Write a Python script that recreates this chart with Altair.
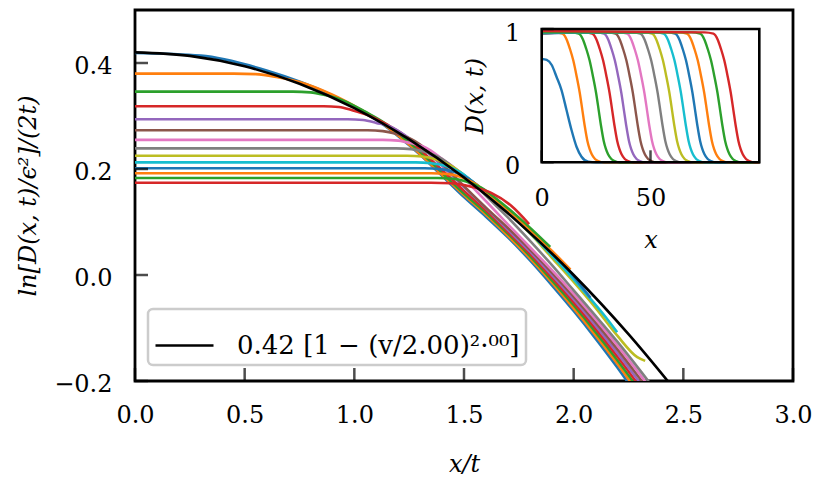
import altair as alt
import pandas as pd

FONT = "DejaVu Serif"
TAB10 = ["#1f77b4", "#ff7f0e", "#2ca02c", "#d62728", "#9467bd",
         "#8c564b", "#e377c2", "#7f7f7f", "#bcbd22", "#17becf"]
N_CURVES = 14
CURVE_COLORS = [TAB10[k % 10] for k in range(N_CURVES)]

# ---------------- main panel: x/t  vs  ln[D/eps^2]/(2t) ----------------
m00_x = [0, 0.3, 0.6, 0.9, 1.1, 1.2, 1.3, 1.4, 1.5, 1.6, 1.7, 1.8, 1.9, 2.0, 2.1, 2.2, 2.3, 2.4]
m00_y = [0.419, 0.414, 0.386, 0.339, 0.293, 0.262, 0.227, 0.187, 0.147, 0.110, 0.071, 0.028,
         -0.019, -0.068, -0.120, -0.175, -0.234, -0.295]
m01_x = [0, 0.45, 0.55, 0.65, 0.75, 0.9, 1.0, 1.1, 1.2, 1.3, 1.4, 1.5, 1.6, 1.7, 1.8, 1.9,
         2.0, 2.1, 2.2, 2.3, 2.4]
m01_y = [0.380, 0.380, 0.379, 0.373, 0.364, 0.340, 0.319, 0.295, 0.263, 0.228, 0.189, 0.151,
         0.114, 0.074, 0.032, -0.014, -0.063, -0.114, -0.168, -0.226, -0.286]
m02_x = [0, 0.72, 0.80, 0.86, 0.95, 1.05, 1.15, 1.2, 1.3, 1.4, 1.5, 1.6, 1.7, 1.8, 1.9, 2.0,
         2.1, 2.2, 2.3, 2.4]
m02_y = [0.346, 0.346, 0.3445, 0.340, 0.329, 0.308, 0.2835, 0.2668, 0.2326, 0.1930, 0.1536,
         0.1176, 0.0780, 0.0361, -0.0095, -0.0571, -0.1078, -0.1613, -0.2178, -0.2772]
m03_x = [0, 0.86, 0.93, 0.99, 1.06, 1.15, 1.22, 1.3, 1.4, 1.5, 1.6, 1.7, 1.8, 1.9, 2.0, 2.1,
         2.2, 2.3, 2.4]
m03_y = [0.3185, 0.3185, 0.317, 0.311, 0.302, 0.2835, 0.266, 0.2366, 0.1982, 0.1588, 0.1222,
         0.0816, 0.0403, -0.0047, -0.0517, -0.1016, -0.1543, -0.2100, -0.2684]
m04_x = [0, 0.97, 1.04, 1.10, 1.17, 1.25, 1.32, 1.4, 1.5, 1.6, 1.7, 1.8, 1.9, 2.0, 2.1, 2.2,
         2.3, 2.4]
m04_y = [0.294, 0.294, 0.2925, 0.287, 0.279, 0.258, 0.236, 0.2062, 0.1658, 0.1262, 0.0853,
         0.0444, 0.0002, -0.0462, -0.0955, -0.1474, -0.2021, -0.2596]
m05_x = [0, 1.06, 1.13, 1.19, 1.26, 1.34, 1.4, 1.5, 1.6, 1.7, 1.8, 1.9, 2.0, 2.1, 2.2, 2.3, 2.4]
m05_y = [0.273, 0.273, 0.2715, 0.2665, 0.2565, 0.2335, 0.2102, 0.1678, 0.1272, 0.0890, 0.0486,
         0.0050, -0.0408, -0.0893, -0.1404, -0.1943, -0.2508]
m06_x = [0, 1.13, 1.2, 1.26, 1.33, 1.4, 1.47, 1.55, 1.6, 1.7, 1.8, 1.9, 2.0, 2.1, 2.2, 2.3, 2.4]
m06_y = [0.255, 0.255, 0.2535, 0.2485, 0.2395, 0.2192, 0.1975, 0.1610, 0.1392, 0.0956, 0.0528,
         0.0098, -0.0354, -0.0831, -0.1334, -0.1865, -0.2420]
m07_x = [0, 1.19, 1.26, 1.32, 1.39, 1.46, 1.53, 1.6, 1.7, 1.8, 1.9, 2.0, 2.1, 2.2, 2.3, 2.4]
m07_y = [0.239, 0.239, 0.2375, 0.2325, 0.2215, 0.2006, 0.1785, 0.1492, 0.1086, 0.0648, 0.0190,
         -0.0290, -0.0771, -0.1262, -0.1785, -0.2328]
m08_x = [0, 1.24, 1.31, 1.37, 1.44, 1.52, 1.6, 1.7, 1.8, 1.9, 2.0, 2.1, 2.2, 2.29, 2.326]
m08_y = [0.225, 0.225, 0.2235, 0.2185, 0.2062, 0.1820, 0.1557, 0.1196, 0.0790, 0.0330, -0.0130,
         -0.0620, -0.1150, -0.1550, -0.1620]
m09_x = [0, 1.28, 1.35, 1.41, 1.48, 1.56, 1.65, 1.75, 1.85, 1.95, 2.05, 2.15, 2.198]
m09_y = [0.2125, 0.2125, 0.211, 0.2065, 0.1947, 0.1693, 0.1380, 0.1004, 0.0586, 0.0147, -0.0323,
         -0.0817, -0.1080]
m10_x = [0, 1.32, 1.39, 1.45, 1.52, 1.6, 1.7, 1.8, 1.9, 1.98, 2.03, 2.077]
m10_y = [0.2013, 0.2013, 0.1998, 0.1952, 0.1817, 0.1557, 0.1206, 0.0828, 0.0425, 0.0078, -0.0185,
         -0.0430]
m11_x = [0, 1.35, 1.42, 1.48, 1.55, 1.63, 1.72, 1.81, 1.9, 1.985]
m11_y = [0.192, 0.192, 0.1905, 0.186, 0.1725, 0.1466, 0.1154, 0.0817, 0.0460, 0.0103]
m12_x = [0, 1.38, 1.45, 1.51, 1.58, 1.66, 1.74, 1.82, 1.893]
m12_y = [0.183, 0.183, 0.1815, 0.1765, 0.1645, 0.1395, 0.1120, 0.0819, 0.0530]
m13_x = [0, 1.35, 1.44, 1.533, 1.624, 1.714, 1.797]
m13_y = [0.174, 0.174, 0.173, 0.1665, 0.155, 0.131, 0.096]

MAIN_X = [m00_x, m01_x, m02_x, m03_x, m04_x, m05_x, m06_x, m07_x, m08_x, m09_x, m10_x,
          m11_x, m12_x, m13_x]
MAIN_Y = [m00_y, m01_y, m02_y, m03_y, m04_y, m05_y, m06_y, m07_y, m08_y, m09_y, m10_y,
          m11_y, m12_y, m13_y]

# black fitted curve 0.42[1-(v/2)^2] read at a few points
FIT_X = [0, 0.25, 0.5, 0.75, 1.0, 1.25, 1.5, 1.75, 2.0, 2.25, 2.5]
FIT_Y = [0.42, 0.4134, 0.3938, 0.3609, 0.315, 0.2559, 0.1838, 0.0984, 0.0, -0.1116, -0.2363]
FIT_LABEL = "0.42 [1 \u2212 (v/2.00)\u00b2\u00b7\u2070\u2070]"

X_TICKS = [0.0, 0.5, 1.0, 1.5, 2.0, 2.5, 3.0]
Y_TICKS = [-0.2, 0.0, 0.2, 0.4]
X_DOMAIN = [0, 3]
Y_DOMAIN = [-0.2, 0.5]

# ---------------- inset: D(x,t) vs x ----------------
i00_x = [0, 2.3, 4.6, 6.8, 9.1, 11.4, 13.7, 16.0, 18.3, 21.4, 25.0, 100]
i00_y = [0.775, 0.768, 0.730, 0.642, 0.542, 0.392, 0.242, 0.117, 0.042, 0.005, 0.0, 0.0]
i01_x = [0, 5.5, 9.5, 11.5, 13, 14.5, 16, 17.5, 18.7, 19.8, 21, 22, 23, 24.5, 26, 28.5, 100]
i02_x = [0, 13, 17, 19, 20.5, 22, 23.5, 25, 26.2, 27.3, 28.5, 29.5, 30.5, 32, 33.5, 36, 100]
i03_x = [0, 19.2, 23.2, 25.2, 26.7, 28.2, 29.7, 31.2, 32.4, 33.5, 34.7, 35.7, 36.7, 38.2, 39.7, 42.2, 100]
i04_x = [0, 24.6, 28.6, 30.6, 32.1, 33.6, 35.1, 36.6, 37.8, 38.9, 40.1, 41.1, 42.1, 43.6, 45.1, 47.6, 100]
i05_x = [0, 29.9, 33.9, 35.9, 37.4, 38.9, 40.4, 41.9, 43.1, 44.2, 45.4, 46.4, 47.4, 48.9, 50.4, 52.9, 100]
i06_x = [0, 35.2, 39.2, 41.2, 42.7, 44.2, 45.7, 47.2, 48.4, 49.5, 50.7, 51.7, 52.7, 54.2, 55.7, 58.2, 100]
i07_x = [0, 41.3, 45.3, 47.3, 48.8, 50.3, 51.8, 53.3, 54.5, 55.6, 56.8, 57.8, 58.8, 60.3, 61.8, 64.3, 100]
i08_x = [0, 46.7, 50.7, 52.7, 54.2, 55.7, 57.2, 58.7, 59.9, 61.0, 62.2, 63.2, 64.2, 65.7, 67.2, 69.7, 100]
i09_x = [0, 52, 56, 58, 59.5, 61, 62.5, 64, 65.2, 66.3, 67.5, 68.5, 69.5, 71, 72.5, 75, 100]
i10_x = [0, 57.3, 61.3, 63.3, 64.8, 66.3, 67.8, 69.3, 70.5, 71.6, 72.8, 73.8, 74.8, 76.3, 77.8, 80.3, 100]
i11_x = [0, 62.7, 66.7, 68.7, 70.2, 71.7, 73.2, 74.7, 75.9, 77.0, 78.2, 79.2, 80.2, 81.7, 83.2, 85.7, 100]
i12_x = [0, 68.8, 72.8, 74.8, 76.3, 77.8, 79.3, 80.8, 82.0, 83.1, 84.3, 85.3, 86.3, 87.8, 89.3, 91.8, 100]
i13_x = [0, 74.9, 78.9, 80.9, 82.4, 83.9, 85.4, 86.9, 88.1, 89.2, 90.4, 91.4, 92.4, 93.9, 95.4, 97.9, 100]
# shape of a front (top of the step down to zero)
FRONT_Y = [0.975, 0.965, 0.92, 0.85, 0.765, 0.65, 0.52, 0.39, 0.27, 0.16, 0.10, 0.06, 0.025, 0.01, 0.0]
INSET_PLATEAU = [0.775, 0.960, 0.965, 0.970, 0.965, 0.970, 0.975, 0.970, 0.975, 0.970,
                 0.975, 0.980, 0.975, 0.985]

INSET_X = [i00_x, i01_x, i02_x, i03_x, i04_x, i05_x, i06_x, i07_x, i08_x, i09_x, i10_x,
           i11_x, i12_x, i13_x]
INSET_Y = [i00_y] + [[p] + FRONT_Y + [0.0] for p in INSET_PLATEAU[1:]]
INSET_X_DOMAIN = [0, 100]
INSET_Y_DOMAIN = [0, 1]
INSET_X_TICKS = [0, 50]
INSET_Y_TICKS = [0, 1]


def curves_frame(xs_list, ys_list):
    rows = []
    for k, (xs, ys) in enumerate(zip(xs_list, ys_list)):
        for j, (a, b) in enumerate(zip(xs, ys)):
            rows.append({"id": f"c{k:02d}", "ord": j, "x": a, "y": b, "col": CURVE_COLORS[k]})
    return pd.DataFrame(rows)


main_df = curves_frame(MAIN_X, MAIN_Y)
fit_df = pd.DataFrame({"x": FIT_X, "y": FIT_Y, "ord": list(range(len(FIT_X))),
                       "label": [FIT_LABEL] * len(FIT_X)})
inset_df = curves_frame(INSET_X, INSET_Y)
xt_df = pd.DataFrame({"x": X_TICKS, "y": [Y_DOMAIN[0]] * len(X_TICKS)})
yt_df = pd.DataFrame({"y": Y_TICKS, "x": [X_DOMAIN[0]] * len(Y_TICKS)})
ixt_df = pd.DataFrame({"x": INSET_X_TICKS, "y": [INSET_Y_DOMAIN[0]] * len(INSET_X_TICKS)})
iyt_df = pd.DataFrame({"y": INSET_Y_TICKS, "x": [INSET_X_DOMAIN[0]] * len(INSET_Y_TICKS)})
frame_df = pd.DataFrame({"x": [INSET_X_DOMAIN[0]], "x1": [INSET_X_DOMAIN[1]],
                         "y": [INSET_Y_DOMAIN[0]], "y1": [INSET_Y_DOMAIN[1]]})

# ---------------- layout ----------------
W, H = 658, 371
IN_X_RANGE = [406.7, 624.3]
IN_Y_RANGE = [152.3, 19.0]
LW = 2.6

mx = alt.Scale(domain=X_DOMAIN, nice=False, zero=False)
my = alt.Scale(domain=Y_DOMAIN, nice=False, zero=False)
ix = alt.Scale(domain=INSET_X_DOMAIN, range=IN_X_RANGE, nice=False, zero=False)
iy = alt.Scale(domain=INSET_Y_DOMAIN, range=IN_Y_RANGE, nice=False, zero=False)

main_x_axis = alt.Axis(values=X_TICKS, format=".1f", title="x/t", ticks=False, tickSize=0,
                       domain=False, grid=False, labelPadding=22, titlePadding=25,
                       labelFlush=False, labelOverlap=False, titleFontStyle="italic")
main_y_axis = alt.Axis(values=Y_TICKS, format=".1f", title="ln[D(x, t)/\u03f5\u00b2]/(2t)",
                       ticks=False, tickSize=0, domain=False, grid=False, labelPadding=23,
                       titlePadding=13, labelFlush=False, labelOverlap=False,
                       titleFontStyle="italic", labelOffset=3)
in_x_axis = alt.Axis(orient="bottom", offset=-(H - IN_Y_RANGE[0]), values=INSET_X_TICKS,
                     format="d", title="x", ticks=False, tickSize=0, domain=False, grid=False,
                     labelPadding=24, titlePadding=18, labelFlush=False,
                     titleFontStyle="italic")
in_y_axis = alt.Axis(orient="left", offset=-IN_X_RANGE[0], values=INSET_Y_TICKS, format="d",
                     title="D(x, t)", ticks=False, tickSize=0, domain=False, grid=False,
                     labelPadding=22, titlePadding=17, labelFlush=False,
                     titleFontStyle="italic", labelOffset=4)


def MX():
    return alt.X("x:Q", scale=mx, axis=main_x_axis)


def MY():
    return alt.Y("y:Q", scale=my, axis=main_y_axis)


def IX():
    return alt.X("x:Q", scale=ix, axis=in_x_axis)


def IY():
    return alt.Y("y:Q", scale=iy, axis=in_y_axis)


curves = alt.Chart(main_df).mark_line(strokeWidth=LW, clip=True, interpolate="monotone").encode(
    x=MX(), y=MY(),
    color=alt.Color("col:N", scale=None),
    detail="id:N",
    order="ord:Q",
)

fit = alt.Chart(fit_df).mark_line(strokeWidth=LW, clip=True, interpolate="monotone").encode(
    x=MX(), y=MY(),
    stroke=alt.Stroke("label:N", scale=alt.Scale(range=["black"]),
                      legend=alt.Legend(title=None, orient="none", legendX=13, legendY=299,
                                        symbolType="stroke", symbolSize=3364,
                                        symbolStrokeWidth=2.6, labelFont=FONT,
                                        labelFontSize=26, labelLimit=600, labelOffset=22,
                                        padding=6, strokeColor="#cccccc", cornerRadius=5,
                                        fillColor="white")),
    order="ord:Q",
)

xt = alt.Chart(xt_df).mark_tick(
    orient="vertical", size=13, thickness=2.5, color="black", yOffset=-6.5
).encode(x=MX(), y=MY())

yt = alt.Chart(yt_df).mark_tick(
    orient="horizontal", size=13, thickness=2.5, color="black", xOffset=6.5
).encode(x=MX(), y=MY())

main = alt.layer(curves, fit, xt, yt)

inset_lines = alt.Chart(inset_df).mark_line(strokeWidth=2.4, interpolate="monotone").encode(
    x=IX(), y=IY(),
    color=alt.Color("col:N", scale=None),
    detail="id:N",
    order="ord:Q",
)

frame = alt.Chart(frame_df).mark_rect(fillOpacity=0, stroke="black", strokeWidth=2.6).encode(
    x=IX(), x2="x1:Q", y=IY(), y2="y1:Q",
)

ixt = alt.Chart(ixt_df).mark_tick(
    orient="vertical", size=12, thickness=2.5, color="black", yOffset=-6
).encode(x=IX(), y=IY())

iyt = alt.Chart(iyt_df).mark_tick(
    orient="horizontal", size=12, thickness=2.5, color="black", xOffset=6
).encode(x=IX(), y=IY())

inset = alt.layer(inset_lines, frame, ixt, iyt)

chart = (
    alt.layer(main, inset)
    .resolve_scale(x="independent", y="independent")
    .properties(width=W, height=H, autosize=alt.AutoSizeParams(type="none"),
                padding={"left": 127, "top": 2, "right": 20, "bottom": 96})
    .configure_view(stroke="black", strokeWidth=2.8)
    .configure_axis(labelFont=FONT, labelFontSize=24, titleFont=FONT, titleFontSize=24,
                    titleFontWeight="normal", labelColor="black", titleColor="black")
    .configure_legend(strokeWidth=2.5)
)

chart.save("out.html", embed_options={"renderer": "svg", "actions": False})
